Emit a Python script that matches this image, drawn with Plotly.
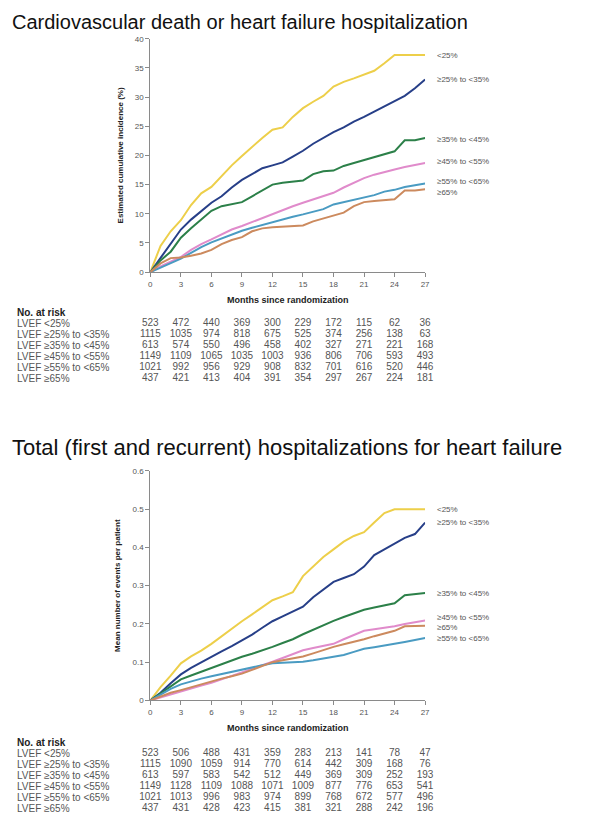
import plotly.graph_objects as go

W, H = 600, 826

months = list(range(28))
tick_months = [0, 3, 6, 9, 12, 15, 18, 21, 24, 27]

groups = ["<25%", "≥25% to <35%", "≥35% to <45%", "≥45% to <55%", "≥55% to <65%", "≥65%"]
row_labels = ["LVEF <25%", "LVEF ≥25% to <35%", "LVEF ≥35% to <45%",
              "LVEF ≥45% to <55%", "LVEF ≥55% to <65%", "LVEF ≥65%"]
colors = ["#EDCF4A", "#273F88", "#2C8049", "#E08BCB", "#4A9BC2", "#CC8A5E"]

# panel 1: cumulative incidence (%) of CV death or HF hospitalization
cv_lt25 = [0, 4.5, 7, 8.9, 11.5, 13.5, 14.6, 16.5, 18.3, 19.9, 21.5, 23, 24.4, 24.8, 26.6, 28.1,
           29.2, 30.2, 31.8, 32.6, 33.2, 33.9, 34.5, 35.8, 37.2, 37.2, 37.2, 37.2]
cv_25_35 = [0, 2.5, 5, 7.3, 9, 10.5, 11.9, 13, 14.5, 15.8, 16.8, 17.8, 18.3, 18.8, 19.8, 20.8,
            22, 23, 24, 24.8, 25.8, 26.6, 27.5, 28.5, 29.4, 30.2, 31.5, 33]
cv_35_45 = [0, 2, 3.5, 5.9, 7.5, 9, 10.5, 11.3, 11.7, 12, 13, 14, 15, 15.3, 15.5, 15.7,
            16.8, 17.3, 17.4, 18.2, 18.7, 19.2, 19.8, 20.3, 20.7, 22.6, 22.6, 23]
cv_45_55 = [0, 1, 1.8, 2.6, 3.8, 4.8, 5.6, 6.5, 7.3, 7.9, 8.6, 9.3, 9.9, 10.6, 11.3, 11.9,
            12.5, 13.1, 13.6, 14.5, 15.3, 16.1, 16.7, 17.2, 17.6, 18, 18.3, 18.7]
cv_55_65 = [0, 0.8, 1.5, 2.3, 3.3, 4.3, 5.1, 5.8, 6.5, 7.1, 7.6, 8.1, 8.5, 9, 9.5, 9.9,
            10.3, 10.8, 11.6, 12, 12.4, 12.7, 13.2, 13.8, 14.1, 14.6, 14.9, 15.2]
cv_ge65 = [0, 1.5, 2.4, 2.5, 2.8, 3.2, 3.8, 4.8, 5.5, 6, 7, 7.5, 7.7, 7.8, 7.9, 8,
           8.7, 9.2, 9.8, 10.2, 11.3, 12, 12.2, 12.4, 12.5, 14, 14, 14.2]
cv_series = [cv_lt25, cv_25_35, cv_35_45, cv_45_55, cv_55_65, cv_ge65]
cv_label_y = [37.2, 33, 22.8, 19, 15.6, 13.6]

cv_risk = [
    [523, 472, 440, 369, 300, 229, 172, 115, 62, 36],
    [1115, 1035, 974, 818, 675, 525, 374, 256, 138, 63],
    [613, 574, 550, 496, 458, 402, 327, 271, 221, 168],
    [1149, 1109, 1065, 1035, 1003, 936, 806, 706, 593, 493],
    [1021, 992, 956, 929, 908, 832, 701, 616, 520, 446],
    [437, 421, 413, 404, 391, 354, 297, 267, 224, 181],
]

# panel 2: mean number of HF hospitalizations per patient
hf_lt25 = [0, 0.035, 0.065, 0.097, 0.115, 0.13, 0.148, 0.168, 0.188, 0.207, 0.225, 0.243, 0.262, 0.272,
           0.283, 0.325, 0.35, 0.375, 0.395, 0.415, 0.43, 0.44, 0.465, 0.49, 0.5, 0.5, 0.5, 0.5]
hf_25_35 = [0, 0.02, 0.045, 0.068, 0.085, 0.1, 0.114, 0.128, 0.142, 0.156, 0.172, 0.19, 0.207, 0.22,
            0.232, 0.245, 0.27, 0.29, 0.31, 0.32, 0.33, 0.35, 0.38, 0.395, 0.41, 0.425, 0.435, 0.465]
hf_35_45 = [0, 0.018, 0.038, 0.055, 0.065, 0.075, 0.085, 0.095, 0.105, 0.114, 0.122, 0.13, 0.14, 0.15,
            0.16, 0.173, 0.185, 0.198, 0.208, 0.218, 0.228, 0.237, 0.243, 0.248, 0.254, 0.275, 0.278, 0.281]
hf_45_55 = [0, 0.008, 0.016, 0.025, 0.032, 0.039, 0.046, 0.055, 0.063, 0.072, 0.082, 0.092, 0.101, 0.111,
            0.121, 0.131, 0.137, 0.143, 0.148, 0.16, 0.172, 0.182, 0.186, 0.19, 0.194, 0.2, 0.204, 0.209]
hf_55_65 = [0, 0.015, 0.03, 0.042, 0.05, 0.057, 0.063, 0.069, 0.075, 0.08, 0.086, 0.092, 0.097, 0.099,
            0.1, 0.101, 0.105, 0.109, 0.114, 0.119, 0.127, 0.135, 0.139, 0.143, 0.148, 0.153, 0.158, 0.163]
hf_ge65 = [0, 0.01, 0.02, 0.027, 0.035, 0.043, 0.05, 0.057, 0.063, 0.07, 0.08, 0.09, 0.1, 0.105,
           0.11, 0.115, 0.123, 0.132, 0.14, 0.147, 0.153, 0.16, 0.168, 0.175, 0.182, 0.194, 0.194, 0.195]
hf_series = [hf_lt25, hf_25_35, hf_35_45, hf_45_55, hf_55_65, hf_ge65]
hf_label_y = [0.5, 0.464, 0.28, 0.218, 0.162, 0.19]

hf_risk = [
    [523, 506, 488, 431, 359, 283, 213, 141, 78, 47],
    [1115, 1090, 1059, 914, 770, 614, 442, 309, 168, 76],
    [613, 597, 583, 542, 512, 449, 369, 309, 252, 193],
    [1149, 1128, 1109, 1088, 1071, 1009, 877, 776, 653, 541],
    [1021, 1013, 996, 983, 974, 899, 768, 672, 577, 496],
    [437, 431, 428, 423, 415, 381, 321, 288, 242, 196],
]

ROW = 11.1  # px between risk-table rows


def py(px):
    # pixel row -> paper y
    return 1 - px / H


fig = go.Figure()

panels = [
    dict(xa="x", ya="y", ta="y3", series=cv_series, label_y=cv_label_y, risk=cv_risk,
         title="Cardiovascular death or heart failure hospitalization", title_px=10, title_size=20,
         rows_px=315),
    dict(xa="x2", ya="y2", ta="y4", series=hf_series, label_y=hf_label_y, risk=hf_risk,
         title="Total (first and recurrent) hospitalizations for heart failure", title_px=440,
         title_size=22, rows_px=750),
]

for p in panels:
    for name, vals, col in zip(groups, p["series"], colors):
        fig.add_trace(go.Scatter(x=months, y=vals, mode="lines", name=name,
                                 line=dict(color=col, width=2), xaxis=p["xa"], yaxis=p["ya"],
                                 showlegend=False))
    for r, counts in enumerate(p["risk"]):
        fig.add_trace(go.Scatter(x=tick_months, y=[r] * len(tick_months), mode="text",
                                 text=[str(c) for c in counts], textfont=dict(size=10, color="#555"),
                                 xaxis=p["xa"], yaxis=p["ta"], showlegend=False, cliponaxis=False))

axis_common = dict(showgrid=False, zeroline=False, showline=True, linecolor="#8a8a8a", linewidth=1,
                   ticks="outside", ticklen=4, tickcolor="#8a8a8a",
                   tickfont=dict(size=8, color="#555"))

x_dom = [142 / W, 420 / W]


def table_dom(top):
    return [py(top + 5.5 * ROW), py(top - 0.5 * ROW)]


fig.update_layout(
    width=W, height=H, margin=dict(l=0, r=0, t=0, b=0),
    paper_bgcolor="white", plot_bgcolor="white",
    font=dict(family="Liberation Sans, Arial, sans-serif", color="#222"),
    xaxis=dict(domain=x_dom, range=[0, 27], tickvals=tick_months, anchor="y",
               title=dict(text="<b>Months since randomization</b>", font=dict(size=9, color="#222"),
                          standoff=8), **axis_common),
    yaxis=dict(domain=[py(263), py(27)], range=[0, 40], dtick=5, anchor="x",
               title=dict(text="<b>Estimated cumulative incidence (%)</b>", font=dict(size=8, color="#222"),
                          standoff=10), **axis_common),
    xaxis2=dict(domain=x_dom, range=[0, 27], tickvals=tick_months, anchor="y2",
                title=dict(text="<b>Months since randomization</b>", font=dict(size=9, color="#222"),
                           standoff=8), **axis_common),
    yaxis2=dict(domain=[py(696), py(464)], range=[0, 0.6], dtick=0.1, anchor="x2",
                tickformat=".1~f",
                title=dict(text="<b>Mean number of events per patient</b>", font=dict(size=8, color="#222"),
                           standoff=10), **axis_common),
    yaxis3=dict(domain=table_dom(315), range=[5.5, -0.5], visible=False, anchor="x"),
    yaxis4=dict(domain=table_dom(750), range=[5.5, -0.5], visible=False, anchor="x2"),
)

for p in panels:
    fig.add_annotation(text=p["title"], xref="paper", yref="paper", x=0, y=py(p["title_px"]),
                       xanchor="left", yanchor="middle", showarrow=False,
                       font=dict(size=p["title_size"], color="#111"))
    fig.add_annotation(text="<b>No. at risk</b>", xref="paper", yref="paper", x=5 / W,
                       y=py(p["rows_px"] - ROW), xanchor="left", yanchor="middle", showarrow=False,
                       font=dict(size=10, color="#222"))
    for r, lab in enumerate(row_labels):
        fig.add_annotation(text=lab, xref="paper", yref=p["ta"], x=5 / W, y=r,
                           xanchor="left", yanchor="middle", showarrow=False,
                           font=dict(size=10, color="#555"))
    for name, ly in zip(groups, p["label_y"]):
        fig.add_annotation(text=name, xref=p["xa"], yref=p["ya"], x=27, y=ly, xanchor="left",
                           yanchor="middle", xshift=10, showarrow=False,
                           font=dict(size=8, color="#555"))

fig.write_html("out.html")
